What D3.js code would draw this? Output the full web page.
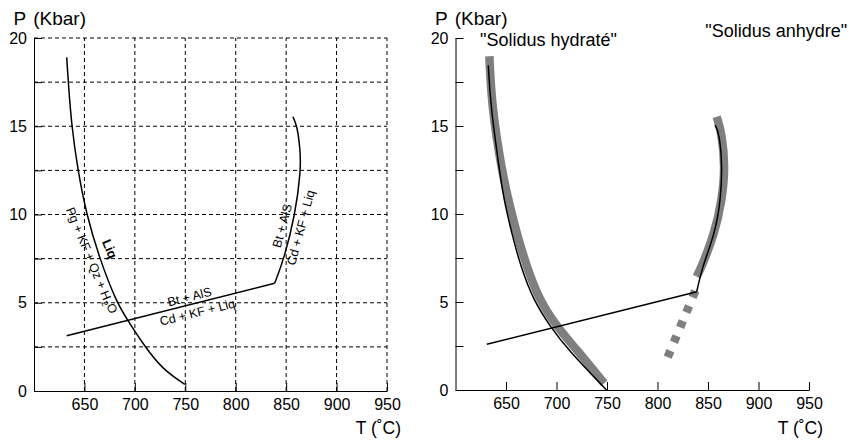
<!DOCTYPE html>
<html>
<head>
<meta charset="utf-8">
<script src="https://cdn.jsdelivr.net/npm/d3@7"></script>
<style>
  body { margin: 0; background: #fff; }
  text { font-family: "Liberation Sans", Arial, Helvetica, sans-serif; fill: #000; }
  .axis path, .axis line { stroke: #000; stroke-width: 1; }
  .axis text { font-size: 16px; }
  .grid { stroke: #000; stroke-width: 1; stroke-dasharray: 4 3; }
  .curve { fill: none; stroke: #000; stroke-width: 1.5; }
  .band { fill: none; stroke: #7f7f7f; stroke-width: 8.5; }
  .phase { font-size: 12.5px; }
</style>
</head>
<body>
<div id="wrapper"></div>
<script>
// tick values
const tempTicks = [650, 700, 750, 800, 850, 900, 950];
const presTicks = [0, 2.5, 5, 7.5, 10, 12.5, 15, 17.5, 20];

// left panel, [T (°C), P (kbar)]
const leftHydrated = [
  [632.4, 18.9], [634, 17.5], [637.3, 15], [643.5, 12.5], [652, 10],
  [665, 7.5], [682, 5], [693, 4], [710, 2.5], [728, 1.2], [749.5, 0.38],
];
const leftTie = [[632.4, 3.13], [838.6, 6.1]];
const leftAnhydrous = [
  [838.6, 6.1], [848, 7.5], [859, 10], [864.6, 12.5], [864, 13.65], [861, 15], [856.7, 15.54],
];

// right panel
const rightHydratedBand = [
  [633.5, 18.96], [636, 16], [646.4, 12.3], [652.3, 10.8], [660.5, 8.9], [670.5, 7],
  [683, 5.11], [700.8, 3.56], [720, 2.29], [747.2, 0.38],
];
const rightHydrated = [
  [632.5, 18.45], [634.8, 16.09], [644, 12.3], [648, 10.8], [655.7, 8.9], [664.6, 7],
  [677.1, 5.11], [694.3, 3.56], [711.7, 2.27], [749.5, 0],
];
const rightTie = [[631, 2.6], [839, 5.58]];
const rightAnhydrousBand = [
  [838.8, 6.44], [843.7, 7], [856.6, 8.9], [863.9, 10.8], [867, 12.7], [863.6, 14.6], [858.6, 15.52],
];
const rightAnhydrous = [
  [838.8, 5.58], [844.3, 7], [857, 8.9], [862.5, 10.8], [864.2, 12.7], [861.2, 14.6], [857, 15.05],
];
const rightDashed = [[837.4, 5.63], [810.1, 1.86]];


const dimensions = { width: 849, height: 442 };

const wrapper = d3.select("#wrapper")
  .append("svg")
    .attr("width", dimensions.width)
    .attr("height", dimensions.height);

const xL = d3.scaleLinear().domain([600, 950]).range([34, 387]);
const yL = d3.scaleLinear().domain([0, 20]).range([391, 38]);
const xR = d3.scaleLinear().domain([600, 950]).range([455.5, 809]);
const yR = d3.scaleLinear().domain([0, 20]).range([390, 38]);

function drawPanel(x, y, withGrid) {
  const g = wrapper.append("g");

  if (withGrid) {
    g.append("g").selectAll("line")
      .data(presTicks.filter(d => d > 0))
      .join("line")
        .attr("class", "grid")
        .attr("x1", x.range()[0]).attr("x2", x.range()[1])
        .attr("y1", d => y(d)).attr("y2", d => y(d));
    g.append("g").selectAll("line")
      .data(tempTicks)
      .join("line")
        .attr("class", "grid")
        .attr("x1", d => x(d)).attr("x2", d => x(d))
        .attr("y1", y(0)).attr("y2", y(20));
  }

  g.append("g")
      .attr("class", "axis")
      .attr("transform", `translate(${x.range()[0]},0)`)
      .call(d3.axisLeft(y)
        .tickValues(presTicks)
        .tickFormat(d => d % 5 === 0 ? d : "")
        .tickSize(-8).tickSizeOuter(0).tickPadding(7));

  g.append("g")
      .attr("class", "axis")
      .attr("transform", `translate(0,${y(0)})`)
      .call(d3.axisBottom(x)
        .tickValues(tempTicks)
        .tickSize(-8).tickSizeOuter(0).tickPadding(8));

  g.selectAll(".axis text").attr("font-family", null);

  const pTitle = g.append("text")
      .attr("x", x.range()[0] - 20.5)
      .attr("y", 25)
      .style("font-size", "19px")
      .text("P");
  pTitle.append("tspan").attr("dx", 7).text("(Kbar)");

  g.append("text")
      .attr("x", x.range()[1] + 14)
      .attr("y", 434)
      .attr("text-anchor", "end")
      .style("font-size", "17.5px")
      .text("T (˚C)");

  return g;
}

const curve = d3.line()
  .x(d => d[0])
  .y(d => d[1])
  .curve(d3.curveBasis);
const straight = d3.line();

const toPx = (x, y) => pts => pts.map(p => [x(p[0]), y(p[1])]);


// left panel
const left = drawPanel(xL, yL, true);
const pxL = toPx(xL, yL);
left.append("path").attr("class", "curve").attr("d", curve(pxL(leftHydrated)));
left.append("path").attr("class", "curve").attr("d", straight(pxL(leftTie)));
left.append("path").attr("class", "curve").attr("d", curve(pxL(leftAnhydrous)));

function label(g, x, y, t, p, angle, txt) {
  return g.append("text")
      .attr("class", "phase")
      .attr("text-anchor", "middle")
      .attr("dy", "0.35em")
      .attr("transform", `translate(${x(t)},${y(p)}) rotate(${angle})`)
      .text(txt);
}

label(left, xL, yL, 675.2, 8.05, 67, "Liq").style("font-weight", "bold").style("font-size", "13px");
const pg = label(left, xL, yL, 657, 7.39, 67.7, "Pg + KF + Qz + H");
pg.append("tspan").attr("dy", "0.3em").style("font-size", "9px").text("2");
pg.append("tspan").attr("dy", "-0.3em").text("O");
label(left, xL, yL, 754.2, 5.34, -14, "Bt + AlS");
label(left, xL, yL, 761.9, 4.46, -14, "Cd + KF + Liq");
label(left, xL, yL, 846, 9.36, -75, "Bt + AlS");
label(left, xL, yL, 864.4, 9.26, -75, "Cd + KF + Liq");


// right panel
const right = drawPanel(xR, yR, false);
const pxR = toPx(xR, yR);
right.append("path").attr("class", "band").attr("d", curve(pxR(rightHydratedBand)));
right.append("path").attr("class", "band").attr("d", curve(pxR(rightAnhydrousBand)));
right.append("path").attr("class", "band")
    .attr("stroke-dasharray", "7 9.2")
    .attr("d", straight(pxR(rightDashed)));
right.append("path").attr("class", "curve").attr("d", curve(pxR(rightHydrated)));
right.append("path").attr("class", "curve").attr("d", straight(pxR(rightTie)));
right.append("path").attr("class", "curve").attr("d", curve(pxR(rightAnhydrous)));

right.append("text")
    .attr("x", xR(624.3)).attr("y", yR(19.52))
    .style("font-size", "18px")
    .text("\"Solidus hydraté\"");
right.append("text")
    .attr("x", xR(847.4)).attr("y", yR(20.06))
    .style("font-size", "18px")
    .text("\"Solidus anhydre\"");
</script>
</body>
</html>
